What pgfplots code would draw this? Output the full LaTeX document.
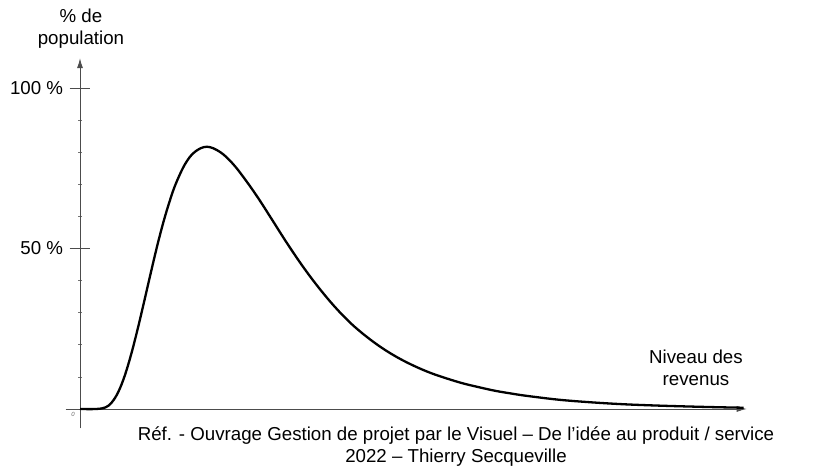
\documentclass[border=0pt]{standalone}
\usepackage{pgfplots}
\pgfplotsset{compat=1.18}
\usepackage{fontspec}
\setmainfont{Liberation Sans}
\usetikzlibrary{arrows.meta}
\begin{document}
\fontsize{18.7}{22}\selectfont
\begin{tikzpicture}[x=1pt,y=1pt]
\useasboundingbox (0,0) rectangle (820,472);
\begin{axis}[
  at={(80pt,63pt)}, anchor=origin,
  x=31.9pt, y=3.21pt,
  xmin=-0.45, xmax=20.9, ymin=-6, ymax=109.3,
  axis lines=middle,
  axis line style={draw=black!70, line width=0.9pt, -{Latex[length=10pt,width=6pt]}},
  clip=false,
  xtick=\empty,
  minor xtick={1,2,...,20},
  ytick={50,100},
  yticklabels={50 \%,100 \%},
  minor ytick={10,20,30,40,60,70,80,90},
  tick align=center,
  major tick length=21pt,
  minor tick length=4pt,
  every tick/.style={draw=black!70, line width=0.8pt},
  minor tick style={draw=black!55, line width=0.6pt},
  ticklabel style={font=\fontsize{18.7}{22}\selectfont},
  /pgf/number format/assume math mode=true,
]
\addplot[black, line width=2.3pt, smooth, tension=0.6] coordinates {
(0,0) (0.5,0) (0.8,0.5) (1.0,2.1) (1.2,5.3) (1.4,10.3) (1.6,16.9) (1.8,24.6)
(2.0,33.0) (2.2,41.6) (2.4,50.0) (2.6,57.7) (2.8,64.4) (3.0,70.1) (3.3,76.4)
(3.6,80.1) (3.98,81.7) (4.4,80.0) (4.8,76.3) (5.2,71.2) (5.6,65.5) (6.0,59.3)
(6.5,51.5) (7.0,44.2) (7.5,37.6) (8.0,31.7) (8.5,26.6) (9.0,22.4) (9.5,18.8)
(10,15.8) (10.5,13.3) (11,11.2) (11.5,9.5) (12,8.0) (12.5,6.8) (13,5.7)
(13.5,4.85) (14,4.1) (15,2.9) (16,2.1) (17,1.5) (18,1.1) (19,0.8) (20,0.55) (20.8,0.4)
};
\end{axis}
\node[text=black!60, font=\fontsize{6}{7}\selectfont\itshape] at (73,58) {0};
\node[align=center] at (81,443) {\% de\\population};
\node[align=center] at (696,104) {Niveau des\\revenus};
\node[align=center] at (456,25) {Réf. - Ouvrage Gestion de projet par le Visuel – De l’idée au produit / service\\2022 – Thierry Secqueville};
\end{tikzpicture}
\end{document}
